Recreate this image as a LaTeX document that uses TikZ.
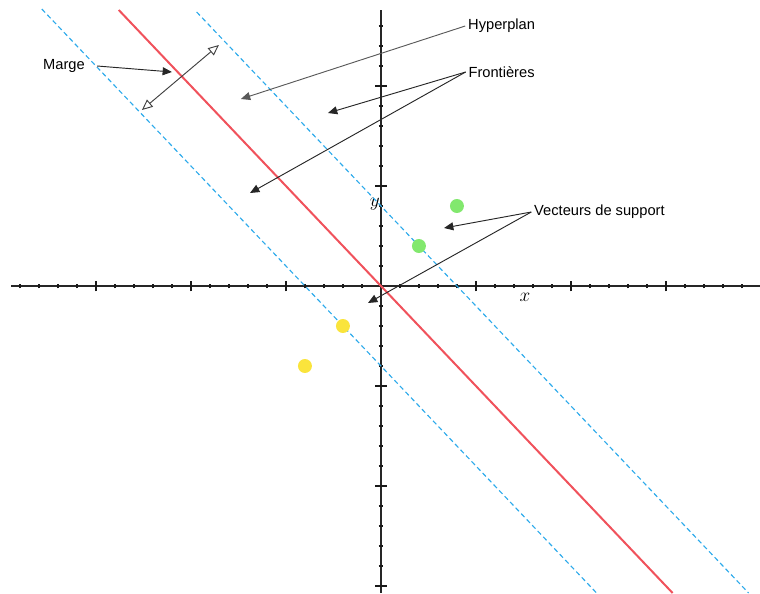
\documentclass[tikz,border=0pt]{standalone}
\usepackage{fontspec}
\setmainfont{Liberation Sans}
\usetikzlibrary{arrows.meta}
\definecolor{planred}{RGB}{240,82,92}
\definecolor{bordblue}{RGB}{45,170,235}
\definecolor{ptgreen}{RGB}{130,232,110}
\definecolor{ptyellow}{RGB}{250,228,60}

\begin{document}
\begin{tikzpicture}[x=14.25pt,y=15pt,>={Triangle[length=7pt,width=6pt]},line join=round,
  lbl/.style={font=\fontsize{11}{13}\selectfont,inner sep=2pt},
  axlbl/.style={font=\fontsize{14}{16}\selectfont,inner sep=0pt},
  axis/.style={line width=1.2pt,black!85},
  tick/.style={line width=0.9pt,black!90},
  border/.style={bordblue,line width=0.85pt,dash pattern=on 3.6pt off 2.4pt},
  callout/.style={->,line width=0.7pt,black!85},
  dot/.style={circle,inner sep=0pt,minimum size=10.5pt}]
  \useasboundingbox (-20.05,-15.35) rectangle (19.95,14.3);

  \draw[axis] (-19.47,0) -- (19.95,0);
  \draw[axis] (0,-15.35) -- (0,13.8);
  \foreach \i in {-19,...,-1,1,2,...,19}
    \draw[tick] (\i,-0.12) -- (\i,0.12);
  \foreach \i in {-15,...,-1,1,2,...,13}
    \draw[tick] (-0.12,\i) -- (0.12,\i);
  \foreach \i in {-15,-10,-5,5,10,15}
    \draw[tick] (\i,-0.27) -- (\i,0.27);
  \foreach \i in {-15,-10,-5,5,10}
    \draw[tick] (-0.3,\i) -- (0.3,\i);
  \node[axlbl] (xlab) at (7.58,-0.55) {$x$};
  \node[axlbl] (ylab) at (-0.32,4.1) {$y$};

  \draw[border] (-17.85,13.85) -- (11.35,-15.35);
  \draw[border] (-9.7,13.7) -- (19.35,-15.35);
  \draw[planred,line width=1.5pt] (-13.8,13.8) -- (15.35,-15.35);

  \node[dot,fill=ptgreen] (g1) at (4,4) {};
  \node[dot,fill=ptgreen] (g2) at (2,2) {};
  \node[dot,fill=ptyellow] (y1) at (-2,-2) {};
  \node[dot,fill=ptyellow] (y2) at (-4,-4) {};

  \node[lbl] (marge) at (-16.68,11.0) {Marge};
  \node[lbl] (hyper) at (6.35,13.0) {Hyperplan};
  \node[lbl] (front) at (6.35,10.7) {Frontières};
  \node[lbl] (vect) at (11.5,3.7) {Vecteurs de support};

  \coordinate (margetip) at (-11.0,10.7);
  \coordinate (mlow) at (-12.58,8.8);
  \coordinate (mhigh) at (-8.53,12.05);
  \coordinate (hyptip) at (-7.37,9.35);
  \coordinate (fronttipa) at (-2.79,8.65);
  \coordinate (fronttipb) at (-6.89,4.65);
  \coordinate (vecttipa) at (3.32,2.9);
  \coordinate (vecttipb) at (-0.68,-0.85);

  \draw[callout] ([xshift=7pt]marge.east) -- (margetip);
  \draw[{Triangle[open,length=8pt,width=7pt]}-{Triangle[open,length=8pt,width=7pt]},line width=0.7pt,black!75] (mlow) -- (mhigh);
  \draw[callout,black!65] (hyper.west) -- (hyptip);
  \draw[callout] (front.west) -- (fronttipa);
  \draw[callout] (front.west) -- (fronttipb);
  \draw[callout] (vect.west) -- (vecttipa);
  \draw[callout] (vect.west) -- (vecttipb);
\end{tikzpicture}
\end{document}
